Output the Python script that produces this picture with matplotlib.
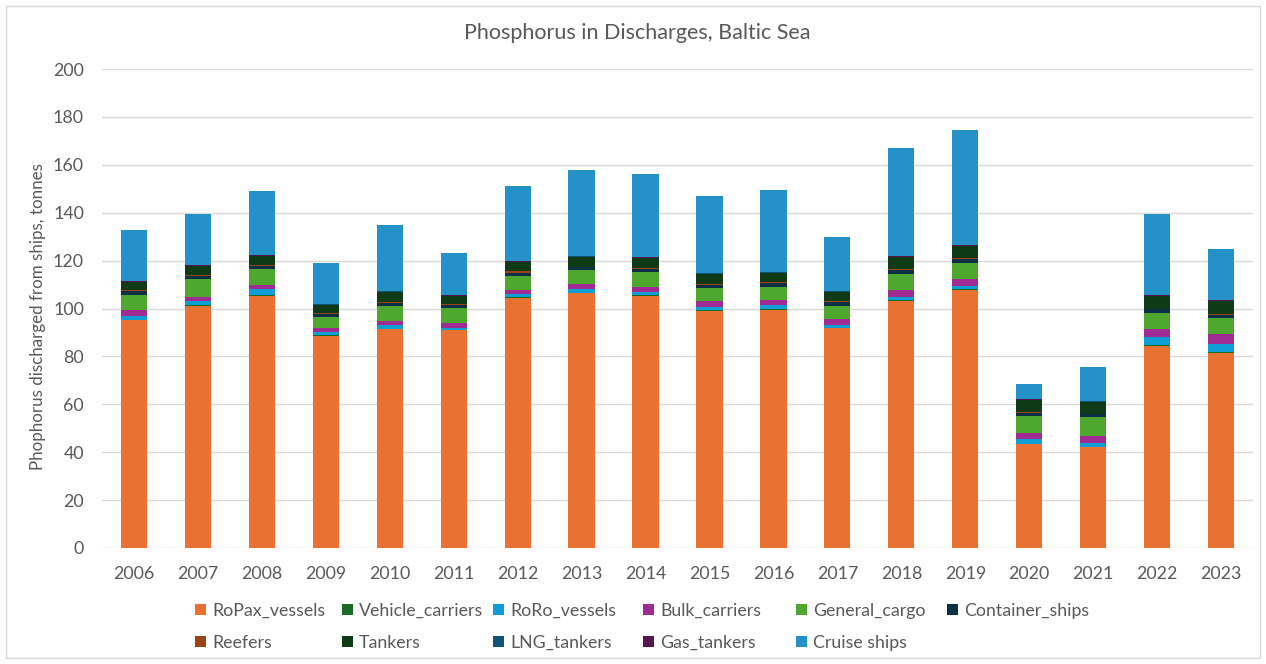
import matplotlib
matplotlib.use("Agg")
import matplotlib.pyplot as plt
from matplotlib.patches import Rectangle, Patch
import numpy as np

plt.rcParams['font.family'] = ['Lato', 'DejaVu Sans']

years = [str(y) for y in range(2006, 2024)]

ropax_vessels = [95.0, 101.2, 105.2, 88.5, 91.3, 91.0, 104.3, 106.3, 105.2,
                 99.1, 99.4, 91.7, 103.3, 107.7, 43.4, 42.0, 84.3, 81.6]
vehicle_carriers = [0.3, 0.3, 0.3, 0.3, 0.3, 0.2, 0.3, 0.3, 0.3,
                    0.3, 0.3, 0.2, 0.3, 0.3, 0.2, 0.2, 0.3, 0.3]
roro_vessels = [1.7, 1.5, 2.5, 1.5, 1.5, 0.5, 1.4, 1.5, 1.3,
                1.1, 1.6, 1.2, 1.4, 1.4, 1.8, 1.8, 3.4, 3.3]
bulk_carriers = [2.2, 2.0, 1.7, 1.4, 1.7, 2.4, 1.7, 2.1, 2.3,
                 2.8, 2.2, 2.5, 2.7, 2.8, 2.8, 2.8, 3.4, 4.2]
general_cargo = [6.6, 7.3, 6.7, 4.9, 6.4, 6.0, 6.0, 5.8, 6.0,
                 5.1, 5.6, 5.6, 6.7, 6.9, 7.1, 7.8, 6.8, 6.5]
container_ships = [1.3, 1.2, 1.3, 1.3, 1.3, 1.3, 1.3, 1.2, 1.5,
                   1.4, 1.5, 1.5, 1.6, 1.5, 1.2, 1.2, 1.4, 1.5]
reefers = [0.5, 0.5, 0.4, 0.4, 0.4, 0.3, 0.5, 0.3, 0.4,
           0.5, 0.4, 0.4, 0.5, 0.4, 0.3, 0.3, 0.3, 0.3]
tankers = [3.3, 3.6, 3.8, 3.2, 4.0, 3.5, 3.9, 4.1, 3.9,
           4.3, 4.0, 3.9, 5.0, 5.1, 5.0, 5.0, 5.3, 5.4]
lng_tankers = [0.2] * 18
gas_tankers = [0.2] * 18
cruise_ships = [21.5, 21.5, 26.7, 17.1, 27.7, 17.4, 31.2, 36.0, 34.7,
                32.0, 34.1, 22.6, 45.1, 48.0, 6.1, 13.9, 33.9, 21.2]

series = [
    ("RoPax_vessels", ropax_vessels, "#E97132"),
    ("Vehicle_carriers", vehicle_carriers, "#196B24"),
    ("RoRo_vessels", roro_vessels, "#0F9ED5"),
    ("Bulk_carriers", bulk_carriers, "#A02B93"),
    ("General_cargo", general_cargo, "#4EA72E"),
    ("Container_ships", container_ships, "#0B3045"),
    ("Reefers", reefers, "#9C4213"),
    ("Tankers", tankers, "#0E3A15"),
    ("LNG_tankers", lng_tankers, "#0E5476"),
    ("Gas_tankers", gas_tankers, "#56154E"),
    ("Cruise ships", cruise_ships, "#2492C8"),
]

W, H = 1266, 664
fig = plt.figure(figsize=(W / 100, H / 100), dpi=100)
ax = fig.add_axes([102 / W, 1 - 548 / H, (1253 - 102) / W, (548 - 69) / H])

x = np.arange(len(years))
bottom = np.zeros(len(years))
handles = {}
for name, vals, color in series:
    v = np.array(vals)
    ax.bar(x, v, width=0.41, bottom=bottom, color=color, linewidth=0, zorder=3)
    handles[name] = Patch(facecolor=color, edgecolor='none')
    bottom += v

ax.set_xlim(-0.5, len(years) - 0.5)
ax.set_ylim(0, 200)
ax.set_yticks(np.arange(0, 201, 20))
ax.set_xticks(x)
ax.set_xticklabels(years)
ax.grid(axis='y', color='#D9D9D9', linewidth=1.0, zorder=0)
ax.set_axisbelow(True)
for s in ax.spines.values():
    s.set_visible(False)
ax.tick_params(axis='both', length=0, labelsize=12.8, colors='#595959')
ax.tick_params(axis='y', pad=13)
ax.tick_params(axis='x', pad=13)

fig.text(637 / W, 1 - 33 / H, "Phosphorus in Discharges, Baltic Sea",
         ha='center', va='center', fontsize=15.5, color='#595959')
fig.text(38 / W, 1 - 317 / H, "Phophorus discharged from ships, tonnes",
         ha='center', va='center', rotation=90, fontsize=12.2, color='#595959')

# legend laid out as six columns with their own left edges
columns = [
    (195, ["RoPax_vessels", "Reefers"]),
    (342, ["Vehicle_carriers", "Tankers"]),
    (493, ["RoRo_vessels", "LNG_tankers"]),
    (643, ["Bulk_carriers", "Gas_tankers"]),
    (796, ["General_cargo", "Cruise ships"]),
    (947, ["Container_ships"]),
]
for left, names in columns:
    fig.legend([handles[n] for n in names], names,
               loc='upper left', bbox_to_anchor=(left / W, 1 - 603 / H),
               frameon=False, fontsize=12.8, labelcolor='#595959',
               handlelength=0.6, handleheight=0.6, handletextpad=0.35,
               labelspacing=0.88, borderpad=0, borderaxespad=0)

fig.patches.append(Rectangle((6 / W, 6 / H), (W - 12) / W, (H - 12) / H,
                             transform=fig.transFigure, fill=False,
                             edgecolor='#D9D9D9', linewidth=1.0))

fig.savefig("out.png", dpi=100, facecolor='white')
